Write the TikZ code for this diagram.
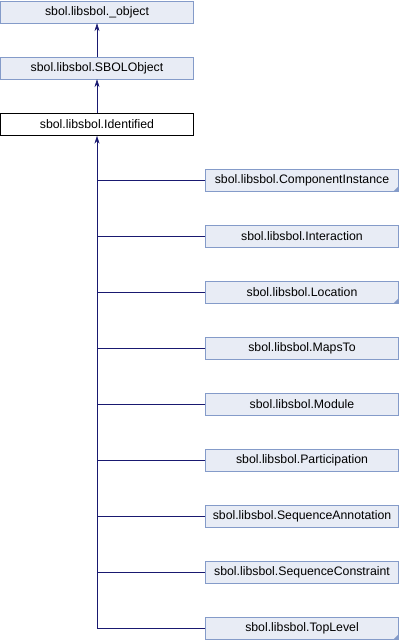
\documentclass[tikz,border=0pt]{standalone}
\usepackage{fontspec}
\setmainfont{Liberation Sans}
\usetikzlibrary{arrows.meta}
\definecolor{boxfill}{RGB}{232,236,245}
\definecolor{boxline}{RGB}{132,155,201}
\definecolor{edgecol}{RGB}{25,25,112}
\begin{document}
\begin{tikzpicture}[x=1pt,y=-1pt,
  cls/.style={draw=boxline,fill=boxfill,minimum width=193pt,minimum height=22pt,inner sep=0pt,font=\fontsize{12.3}{14}\selectfont},
  cur/.style={cls,draw=black,fill=white},
  inh/.style={draw=edgecol,semithick},
  tip/.style={-{Stealth[length=8pt,width=5pt]}}]
 \useasboundingbox (0,0) rectangle (400,640);
 % base classes
 \node[cls] (obj) at (97,12) {sbol.libsbol.\_object};
 \node[cls] (sbolobj) at (97,68) {sbol.libsbol.SBOLObject};
 \node[cur] (ident) at (97,124.5) {sbol.libsbol.Identified};
 \draw[inh,tip] (sbolobj) -- (obj);
 \draw[inh,tip] (ident) -- (sbolobj);
 % derived classes
 \node[cls] (compinst) at (302,180) {sbol.libsbol.ComponentInstance};
 \node[cls] (interact) at (302,236) {sbol.libsbol.Interaction};
 \node[cls] (location) at (302,292) {sbol.libsbol.Location};
 \node[cls] (mapsto) at (302,348) {sbol.libsbol.MapsTo};
 \node[cls] (module) at (302,404) {sbol.libsbol.Module};
 \node[cls] (partic) at (302,460) {sbol.libsbol.Participation};
 \node[cls] (seqann) at (302,516) {sbol.libsbol.SequenceAnnotation};
 \node[cls] (seqcon) at (302,572) {sbol.libsbol.SequenceConstraint};
 \node[cls] (toplevel) at (302,628) {sbol.libsbol.TopLevel};
 \draw[inh,tip] (toplevel.west) -| (ident.south);
 \foreach \n in {compinst,interact,location,mapsto,module,partic,seqann,seqcon}
  \draw[inh] (\n.west) -- (\n.west -| ident.south);
 % corner marks
 \foreach \n in {compinst,location,toplevel}
  \fill[boxline] (\n.south east) -- ++(-5,0) -- ++(5,-5) -- cycle;
\end{tikzpicture}
\end{document}
